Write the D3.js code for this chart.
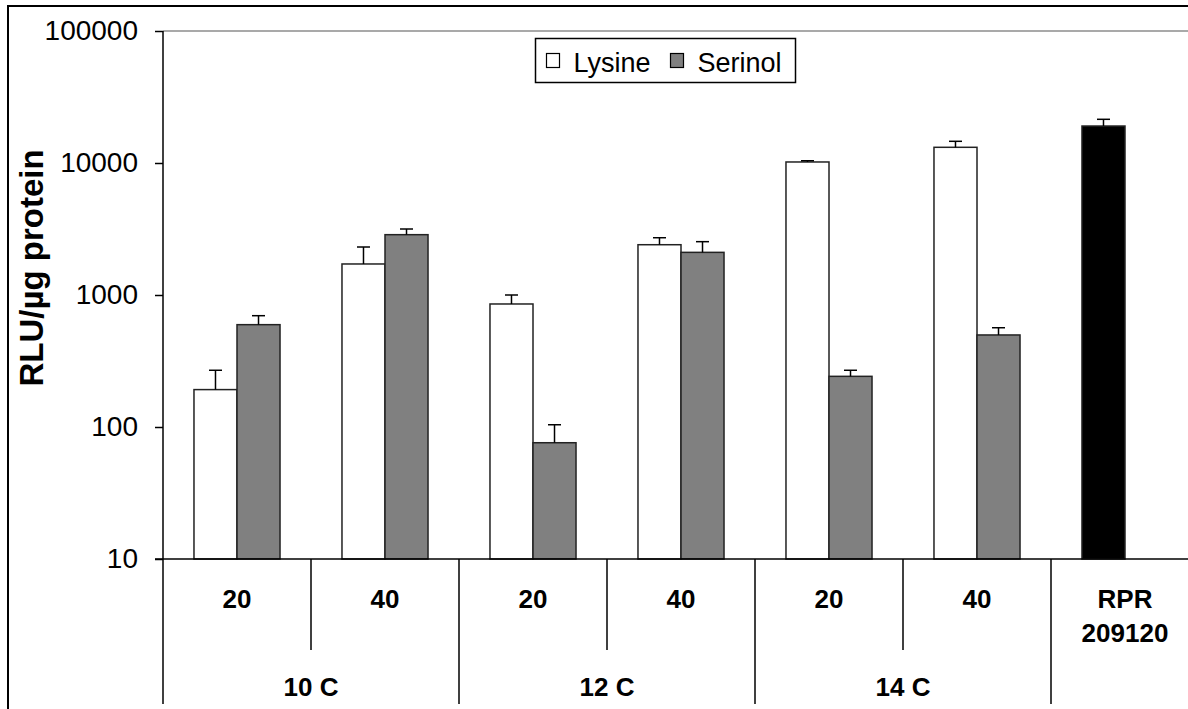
<!DOCTYPE html>
<html>
<head>
<meta charset="utf-8">
<script src="https://cdn.jsdelivr.net/npm/d3@7"></script>
<style>
  body { margin: 0; background: #fff; }
  text { font-family: 'Liberation Sans', Arial, sans-serif; }
</style>
</head>
<body>
<div class="canvas"></div>
<script>
// data
const subLabels = ['20', '40', '20', '40', '20', '40', 'RPR|209120']
const groupOf = [0, 0, 1, 1, 2, 2, 3]
const groupNames = ['10 C', '12 C', '14 C', '']
const seriesNames = ['Lysine', 'Serinol']
const lysine = [192, 1718, 855, 2404, 10180, 13150]
const lysineErr = [77, 592, 145, 312, 220, 1450]
const serinol = [596, 2864, 76, 2104, 242, 498]
const serinolErr = [101, 298, 28, 431, 27, 67]
const rprValue = 19060
const rprErr = 2370
const yTicks = [10, 100, 1000, 10000, 100000]

const width = 1188
const height = 709

const svg = d3.select('.canvas')
    .append('svg')
    .attr('width', width)
    .attr('height', height)

// plot area edges
const plotLeft = 163
const plotTop = 31
const plotBottom = 559
const step = 148

// outer chart border
svg.append('rect')
    .attr('x', 8)
    .attr('y', 6)
    .attr('width', 1300)
    .attr('height', 800)
    .attr('fill', 'none')
    .attr('stroke', '#000')
    .attr('stroke-width', 2)

const y = d3.scaleLog()
    .domain([10, 100000])
    .range([plotBottom, plotTop])

const x = d3.scaleBand()
    .domain(d3.range(subLabels.length))
    .range([plotLeft, plotLeft + step * subLabels.length])

// two bars per slot, centred
const x1 = d3.scaleBand()
    .domain(seriesNames)
    .range([0, step])
    .paddingOuter(0.72)

// top edge of plot area (grey)
svg.append('line')
    .attr('x1', plotLeft).attr('x2', width)
    .attr('y1', plotTop).attr('y2', plotTop)
    .attr('stroke', '#8c8c8c')
    .attr('stroke-width', 1.5)

// bars
const bars = []
lysine.forEach((v, i) => bars.push({i, s: 'Lysine', v, e: lysineErr[i], fill: '#fff'}))
serinol.forEach((v, i) => bars.push({i, s: 'Serinol', v, e: serinolErr[i], fill: '#808080'}))
bars.push({i: 6, s: 'Lysine', v: rprValue, e: rprErr, fill: '#000'})

const barG = svg.append('g')

barG.selectAll('rect')
    .data(bars)
    .enter()
    .append('rect')
    .attr('x', d => x(d.i) + x1(d.s))
    .attr('y', d => y(d.v))
    .attr('width', x1.bandwidth())
    .attr('height', d => plotBottom - y(d.v))
    .attr('fill', d => d.fill)
    .attr('stroke', '#222')
    .attr('stroke-width', 1.5)

// error bars, upper only
const errG = barG.selectAll('g.err')
    .data(bars)
    .enter()
    .append('g')
    .attr('class', 'err')
    .attr('stroke', '#000')
    .attr('stroke-width', 1.5)

errG.append('line')
    .attr('x1', d => x(d.i) + x1(d.s) + x1.bandwidth() / 2)
    .attr('x2', d => x(d.i) + x1(d.s) + x1.bandwidth() / 2)
    .attr('y1', d => y(d.v))
    .attr('y2', d => y(d.v + d.e))

errG.append('line')
    .attr('x1', d => x(d.i) + x1(d.s) + x1.bandwidth() / 2 - 6.5)
    .attr('x2', d => x(d.i) + x1(d.s) + x1.bandwidth() / 2 + 6.5)
    .attr('y1', d => y(d.v + d.e))
    .attr('y2', d => y(d.v + d.e))

// y axis
const yAxis = d3.axisLeft(y)
    .tickValues(yTicks)
    .tickFormat(d3.format('d'))
    .tickSize(8)
    .tickPadding(17)

const yAxisGroup = svg.append('g')
    .attr('transform', `translate(${plotLeft}, 0)`)
    .call(yAxis)

yAxisGroup.select('.domain').remove()
yAxisGroup.append('line')
    .attr('x1', 0).attr('x2', 0)
    .attr('y1', plotTop).attr('y2', plotBottom)
    .attr('stroke', '#000')
    .attr('stroke-width', 1.5)
yAxisGroup.selectAll('.tick line')
    .attr('stroke', '#000')
    .attr('stroke-width', 1.5)
yAxisGroup.selectAll('.tick text')
    .attr('font-size', 28)
    .attr('fill', '#000')
    .style('font-family', "'Liberation Sans', Arial, sans-serif")

svg.append('text')
    .attr('transform', 'translate(43, 268) rotate(-90)')
    .attr('text-anchor', 'middle')
    .attr('font-size', 33)
    .attr('font-weight', 'bold')
    .text('RLU/µg protein')

// x axis line
svg.append('line')
    .attr('x1', plotLeft - 8).attr('x2', width)
    .attr('y1', plotBottom).attr('y2', plotBottom)
    .attr('stroke', '#000')
    .attr('stroke-width', 1.5)

// slot dividers: long where the group changes, short inside a group
const bounds = d3.range(subLabels.length + 1)
svg.selectAll('line.div')
    .data(bounds)
    .enter()
    .append('line')
    .attr('class', 'div')
    .attr('x1', d => plotLeft + d * step)
    .attr('x2', d => plotLeft + d * step)
    .attr('y1', plotBottom)
    .attr('y2', d => (d === 0 || groupOf[d] !== groupOf[d - 1]) ? 704 : 650)
    .attr('stroke', '#000')
    .attr('stroke-width', 1.5)

// slot labels
const subText = svg.selectAll('text.sub')
    .data(subLabels)
    .enter()
    .append('text')
    .attr('class', 'sub')
    .attr('text-anchor', 'middle')
    .attr('font-size', 26)
    .attr('font-weight', 'bold')

subText.selectAll('tspan')
    .data((d, i) => d.split('|').map(t => ({t, i})))
    .enter()
    .append('tspan')
    .attr('x', d => x(d.i) + x.bandwidth() / 2)
    .attr('y', (d, j) => 608 + j * 34)
    .text(d => d.t)

// group labels
const groupCentres = groupNames.map((g, k) => {
    const idx = d3.range(subLabels.length).filter(i => groupOf[i] === k)
    return {g, cx: (x(idx[0]) + x(idx[idx.length - 1]) + step) / 2}
})

svg.selectAll('text.grp')
    .data(groupCentres)
    .enter()
    .append('text')
    .attr('class', 'grp')
    .attr('x', d => d.cx)
    .attr('y', 696)
    .attr('text-anchor', 'middle')
    .attr('font-size', 26)
    .attr('font-weight', 'bold')
    .text(d => d.g)

// legend
const legend = svg.append('g')
    .attr('transform', 'translate(535.5, 38.5)')

legend.append('rect')
    .attr('width', 260)
    .attr('height', 44)
    .attr('fill', '#fff')
    .attr('stroke', '#000')
    .attr('stroke-width', 1.5)

const legendX = [11, 135]
const legendFill = ['#fff', '#808080']

const items = legend.selectAll('g.item')
    .data(seriesNames)
    .enter()
    .append('g')
    .attr('class', 'item')
    .attr('transform', (d, i) => `translate(${legendX[i]}, 0)`)

items.append('rect')
    .attr('x', 0)
    .attr('y', 15)
    .attr('width', 13)
    .attr('height', 14)
    .attr('fill', (d, i) => legendFill[i])
    .attr('stroke', '#000')
    .attr('stroke-width', 1.2)

items.append('text')
    .attr('x', 27)
    .attr('y', 33)
    .attr('font-size', 27)
    .text(d => d)
</script>
</body>
</html>
